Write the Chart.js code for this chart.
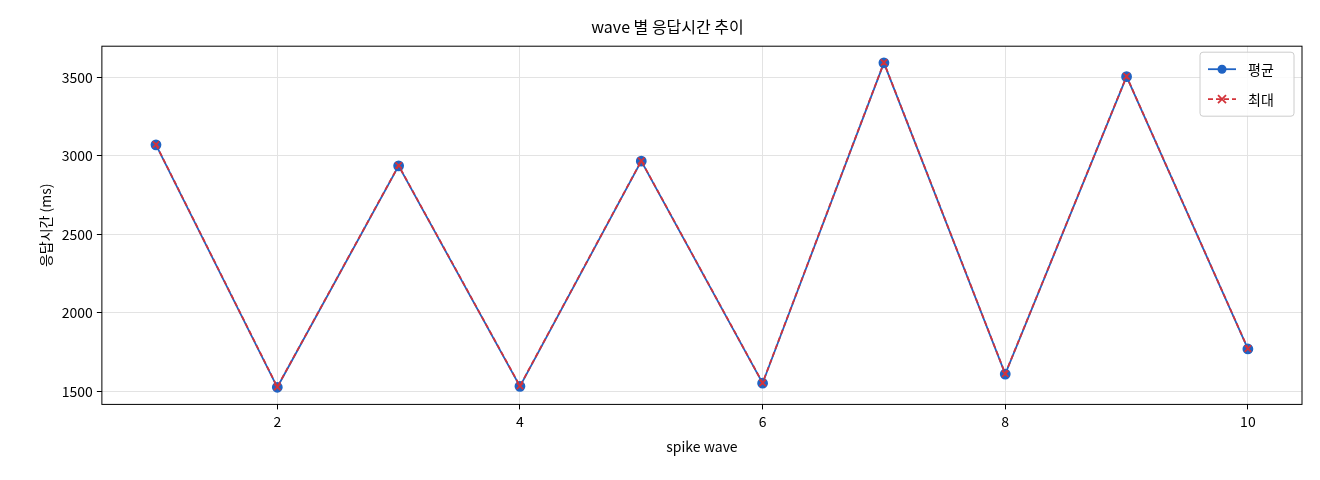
<!DOCTYPE html>
<html>
<head>
<meta charset="utf-8">
<script src="https://cdn.jsdelivr.net/npm/chart.js@4"></script>
<style>
html, body { margin: 0; padding: 0; background: #fff; }
#wrap { width: 1320px; height: 480px; }
</style>
</head>
<body>
<div id="wrap"><canvas id="chart" width="1320" height="480"></canvas></div>
<script>
const waves = [1, 2, 3, 4, 5, 6, 7, 8, 9, 10];
const avgValues = [3070, 1526, 2936, 1532, 2966, 1552, 3592, 1610, 3504, 1770];
const maxValues = [3072, 1528, 2938, 1534, 2968, 1554, 3594, 1612, 3506, 1772];
const yTicks = [1500, 2000, 2500, 3000, 3500];
const xTicks = [2, 4, 6, 8, 10];

const font = "'Noto Sans CJK KR', 'DejaVu Sans', sans-serif";
Chart.defaults.font.family = font;
Chart.defaults.color = '#000';

const framePlugin = {
    id: 'frame',
    afterDraw(chart) {
        const a = chart.chartArea, ctx = chart.ctx;
        ctx.save();
        ctx.strokeStyle = '#000';
        ctx.lineWidth = 1;
        ctx.strokeRect(a.left, a.top, a.right - a.left, a.bottom - a.top);
        ctx.restore();
    }
};

new Chart(document.getElementById('chart').getContext('2d'), {
    type: 'line',
    data: {
        datasets: [{
            label: '평균',
            order: 2,
            data: waves.map((w, i) => ({ x: w, y: avgValues[i] })),
            borderColor: '#1f63c4',
            backgroundColor: '#1f63c4',
            borderWidth: 1.8,
            pointStyle: 'circle',
            pointRadius: 4.5,
            pointHoverRadius: 4.5
        }, {
            label: '최대',
            order: 1,
            data: waves.map((w, i) => ({ x: w, y: maxValues[i] })),
            borderColor: '#d3333a',
            backgroundColor: '#d3333a',
            borderWidth: 1.8,
            borderDash: [5, 3],
            pointStyle: 'crossRot',
            pointRadius: 4.5,
            pointBorderWidth: 1.8
        }]
    },
    options: {
        responsive: false,
        animation: false,
        layout: { padding: { top: 13, right: 18, left: 33, bottom: 21 } },
        plugins: {
            title: { display: true, text: 'wave 별 응답시간 추이', font: { size: 16, weight: 'normal' }, padding: { top: 4, bottom: 10 } },
            legend: { display: false },
            tooltip: { enabled: false }
        },
        scales: {
            x: {
                type: 'linear', min: 0.554, max: 10.446,
                afterBuildTicks: s => { s.ticks = xTicks.map(v => ({ value: v })); },
                grid: { color: '#e3e3e3', drawTicks: true, tickLength: 5, tickColor: '#000' },
                border: { display: false },
                ticks: { font: { size: 14 }, padding: 4, callback: v => String(v) },
                title: { display: true, text: 'spike wave', font: { size: 14 } }
            },
            y: {
                min: 1417, max: 3698,
                afterBuildTicks: s => { s.ticks = yTicks.map(v => ({ value: v })); },
                grid: { color: '#e3e3e3', tickLength: 5, tickColor: '#000' },
                border: { display: false },
                ticks: { font: { size: 14 }, padding: 4, callback: v => String(v) },
                title: { display: true, text: '응답시간 (ms)', font: { size: 14 } }
            }
        }
    },
    plugins: [framePlugin, {
        id: 'legendBox',
        afterDraw(chart) {
            const a = chart.chartArea, ctx = chart.ctx;
            const x = a.right - 102, y = a.top + 6, w = 94, h = 64;
            ctx.save();
            ctx.fillStyle = 'rgba(255,255,255,0.85)';
            ctx.strokeStyle = '#ccc';
            ctx.lineWidth = 1;
            ctx.beginPath(); ctx.roundRect(x, y, w, h, 3); ctx.fill(); ctx.stroke();
            chart.data.datasets.forEach((ds, i) => {
                const ly = y + 17 + i * 30;
                ctx.strokeStyle = ds.borderColor; ctx.lineWidth = 1.8;
                ctx.setLineDash(ds.borderDash || []);
                ctx.beginPath(); ctx.moveTo(x + 8, ly); ctx.lineTo(x + 36, ly); ctx.stroke();
                ctx.setLineDash([]);
                if (i === 0) {
                    ctx.fillStyle = ds.backgroundColor;
                    ctx.beginPath(); ctx.arc(x + 22, ly, 4.5, 0, Math.PI * 2); ctx.fill();
                } else {
                    ctx.beginPath();
                    ctx.moveTo(x + 18, ly - 4); ctx.lineTo(x + 26, ly + 4);
                    ctx.moveTo(x + 26, ly - 4); ctx.lineTo(x + 18, ly + 4); ctx.stroke();
                }
                ctx.fillStyle = '#000'; ctx.font = '14px ' + font;
                ctx.textBaseline = 'middle';
                ctx.fillText(ds.label, x + 48, ly);
            });
            ctx.restore();
        }
    }]
});
</script>
</body>
</html>
